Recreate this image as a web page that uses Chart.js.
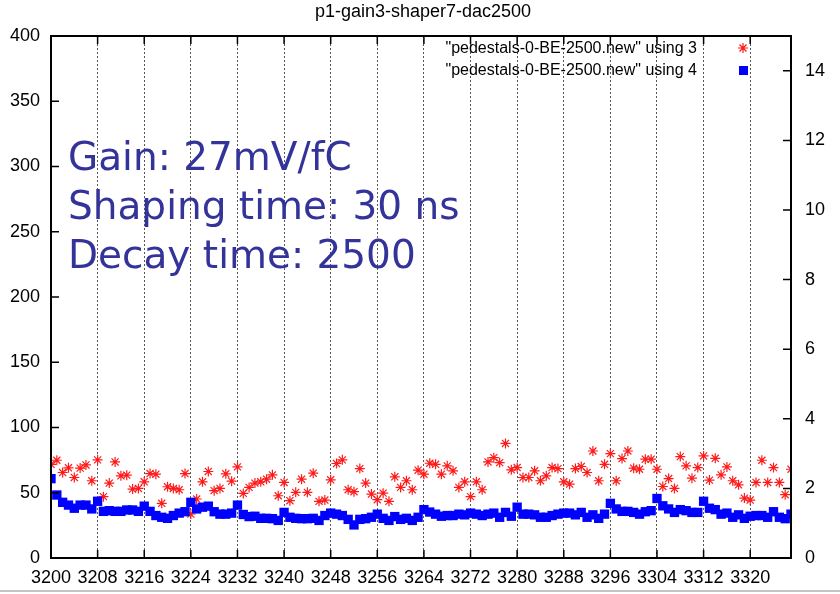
<!DOCTYPE html>
<html>
<head>
<meta charset="utf-8">
<title>p1-gain3-shaper7-dac2500</title>
<script src="https://cdn.jsdelivr.net/npm/chart.js@4.4.1/dist/chart.umd.min.js"></script>
<style>
    html, body { margin: 0; padding: 0; background: #fff; }
    #wrap { position: relative; width: 840px; height: 594px; }
</style>
</head>
<body>
<div id="wrap"><canvas id="pedChart" width="840" height="594"></canvas></div>
<script>
// channel numbers on the x axis
const channels = [
    3200, 3201, 3202, 3203, 3204, 3205, 3206, 3207, 3208, 3209, 3210, 3211, 3212, 3213, 3214, 3215,
    3216, 3217, 3218, 3219, 3220, 3221, 3222, 3223, 3224, 3225, 3226, 3227, 3228, 3229, 3230, 3231,
    3232, 3233, 3234, 3235, 3236, 3237, 3238, 3239, 3240, 3241, 3242, 3243, 3244, 3245, 3246, 3247,
    3248, 3249, 3250, 3251, 3252, 3253, 3254, 3255, 3256, 3257, 3258, 3259, 3260, 3261, 3262, 3263,
    3264, 3265, 3266, 3267, 3268, 3269, 3270, 3271, 3272, 3273, 3274, 3275, 3276, 3277, 3278, 3279,
    3280, 3281, 3282, 3283, 3284, 3285, 3286, 3287, 3288, 3289, 3290, 3291, 3292, 3293, 3294, 3295,
    3296, 3297, 3298, 3299, 3300, 3301, 3302, 3303, 3304, 3305, 3306, 3307, 3308, 3309, 3310, 3311,
    3312, 3313, 3314, 3315, 3316, 3317, 3318, 3319, 3320, 3321, 3322, 3323, 3324, 3325, 3326, 3327
];

// "using 3" column (left axis)
const using3 = [
    71.8, 74.9, 65.5, 69.1, 61.7, 68.9, 71.3, 59.2, 75.2, 47.0, 57.4, 73.6, 63.0, 63.5, 52.8, 53.3,
    58.4, 64.7, 64.2, 41.9, 54.6, 53.3, 52.3, 64.7, 33.7, 45.2, 58.4, 66.3, 51.6, 53.3, 64.5, 58.9,
    69.8, 49.5, 54.1, 57.4, 58.4, 60.4, 63.7, 47.7, 57.9, 43.9, 50.3, 60.4, 50.3, 65.0, 43.4, 44.4,
    59.9, 72.4, 75.2, 52.3, 50.8, 68.5, 57.4, 49.0, 44.7, 49.7, 43.4, 62.2, 54.1, 59.2, 52.3, 67.3,
    64.2, 72.6, 71.8, 64.2, 70.6, 66.8, 54.1, 58.4, 47.0, 58.4, 52.3, 73.6, 76.9, 73.1, 87.8, 67.6,
    69.3, 61.7, 61.7, 66.8, 59.2, 63.0, 69.3, 68.5, 58.4, 56.6, 68.5, 70.1, 65.5, 82.0, 59.2, 71.8,
    80.0, 59.2, 76.2, 82.0, 68.8, 68.0, 75.7, 75.7, 68.0, 54.8, 60.9, 53.3, 77.7, 70.6, 61.2, 69.3,
    78.2, 59.7, 76.4, 63.7, 69.8, 59.2, 56.1, 45.9, 44.4, 57.9, 74.9, 57.9, 69.3, 57.9, 48.5, 68.0
];

// "using 4" column (right axis)
const using4 = [
    2.28, 1.81, 1.60, 1.52, 1.43, 1.52, 1.52, 1.41, 1.63, 1.34, 1.36, 1.34, 1.34, 1.38, 1.38, 1.34,
    1.49, 1.34, 1.22, 1.17, 1.14, 1.22, 1.29, 1.33, 1.60, 1.41, 1.46, 1.49, 1.33, 1.26, 1.26, 1.29,
    1.52, 1.25, 1.19, 1.20, 1.14, 1.14, 1.13, 1.08, 1.31, 1.17, 1.14, 1.13, 1.13, 1.14, 1.08, 1.22,
    1.29, 1.26, 1.22, 1.11, 0.95, 1.11, 1.13, 1.17, 1.26, 1.14, 1.08, 1.19, 1.11, 1.14, 1.08, 1.17,
    1.39, 1.32, 1.26, 1.20, 1.22, 1.22, 1.26, 1.24, 1.29, 1.26, 1.22, 1.26, 1.29, 1.17, 1.31, 1.20,
    1.46, 1.26, 1.26, 1.24, 1.17, 1.17, 1.22, 1.26, 1.29, 1.29, 1.24, 1.31, 1.17, 1.24, 1.14, 1.26,
    1.57, 1.41, 1.34, 1.34, 1.31, 1.26, 1.33, 1.36, 1.71, 1.50, 1.41, 1.31, 1.39, 1.36, 1.31, 1.31,
    1.63, 1.43, 1.39, 1.26, 1.29, 1.17, 1.24, 1.14, 1.20, 1.22, 1.22, 1.17, 1.33, 1.17, 1.13, 1.26
];

const xTicks = [3200, 3208, 3216, 3224, 3232, 3240, 3248, 3256, 3264, 3272, 3280, 3288, 3296, 3304, 3312, 3320];
const yTicks = [0, 50, 100, 150, 200, 250, 300, 350, 400];
const y2Ticks = [0, 2, 4, 6, 8, 10, 12, 14];

const chartTitle = 'p1-gain3-shaper7-dac2500';
const legendLabels = ['"pedestals-0-BE-2500.new" using 3', '"pedestals-0-BE-2500.new" using 4'];
const noteLines = ['Gain: 27mV/fC', 'Shaping time: 30 ns', 'Decay time: 2500'];

const RED = '#ff1a1a';
const BLUE = '#0000ff';
const FAMILY = '"Liberation Sans", Arial, sans-serif';

// gnuplot-like frame, inward ticks, title, key and the text box
const gnuplotDecor = {
    id: 'gnuplotDecor',
    afterDraw(chart) {
        const ctx = chart.ctx;
        const area = chart.chartArea;
        const x = chart.scales.x, y = chart.scales.y, y2 = chart.scales.y2;
        ctx.save();

        // tick marks pointing inside
        ctx.strokeStyle = '#000';
        ctx.lineWidth = 1.5;
        ctx.beginPath();
        xTicks.forEach(v => {
            const px = x.getPixelForValue(v);
            ctx.moveTo(px, area.bottom); ctx.lineTo(px, area.bottom - 8);
            ctx.moveTo(px, area.top); ctx.lineTo(px, area.top + 8);
        });
        yTicks.forEach(v => {
            const py = y.getPixelForValue(v);
            ctx.moveTo(area.left, py); ctx.lineTo(area.left + 8, py);
        });
        y2Ticks.forEach(v => {
            const py = y2.getPixelForValue(v);
            ctx.moveTo(area.right, py); ctx.lineTo(area.right - 8, py);
        });
        ctx.stroke();

        // border
        ctx.lineWidth = 2;
        ctx.strokeRect(area.left, area.top, area.right - area.left, area.bottom - area.top);

        // title
        ctx.fillStyle = '#000';
        ctx.font = '18px ' + FAMILY;
        ctx.textAlign = 'center';
        ctx.textBaseline = 'middle';
        ctx.fillText(chartTitle, (area.left + area.right) / 2 + 2, 12);

        // key
        ctx.font = '16px ' + FAMILY;
        ctx.textAlign = 'right';
        ctx.fillText(legendLabels[0], 697, 49);
        ctx.fillText(legendLabels[1], 697, 71);
        ctx.strokeStyle = RED;
        ctx.lineWidth = 1.2;
        ctx.beginPath();
        const sx = 743, sy = 48, r = 5;
        ctx.moveTo(sx - r, sy); ctx.lineTo(sx + r, sy);
        ctx.moveTo(sx, sy - r); ctx.lineTo(sx, sy + r);
        ctx.moveTo(sx - r * 0.7, sy - r * 0.7); ctx.lineTo(sx + r * 0.7, sy + r * 0.7);
        ctx.moveTo(sx - r * 0.7, sy + r * 0.7); ctx.lineTo(sx + r * 0.7, sy - r * 0.7);
        ctx.stroke();
        ctx.fillStyle = BLUE;
        ctx.fillRect(739, 66, 9, 9);

        // annotation
        ctx.fillStyle = '#333399';
        ctx.font = '39px "DejaVu Sans", sans-serif';
        ctx.textAlign = 'left';
        ctx.textBaseline = 'alphabetic';
        ctx.fillText(noteLines[0], 68, 170);
        ctx.fillText(noteLines[1], 68, 219);
        ctx.fillText(noteLines[2], 68, 268);

        // bottom rule of the picture
        ctx.fillStyle = '#c4c4c4';
        ctx.fillRect(0, 590, 840, 2);
        ctx.restore();
    }
};

const ctx = document.getElementById('pedChart').getContext('2d');
new Chart(ctx, {
    type: 'scatter',
    data: {
        datasets: [{
            label: legendLabels[0],
            data: channels.map((c, i) => ({ x: c, y: using3[i] })),
            yAxisID: 'y',
            pointStyle: 'star',
            pointRadius: 5,
            borderColor: RED,
            backgroundColor: RED,
            pointBorderWidth: 1.2,
            order: 1
        }, {
            label: legendLabels[1],
            data: channels.map((c, i) => ({ x: c, y: using4[i] })),
            yAxisID: 'y2',
            pointStyle: 'rect',
            pointRadius: 6.6,
            backgroundColor: BLUE,
            borderColor: BLUE,
            pointBorderWidth: 0,
            order: 0
        }]
    },
    options: {
        responsive: false,
        animation: false,
        events: [],
        layout: { padding: { top: 36, left: 0, right: 0, bottom: 0 } },
        plugins: {
            legend: { display: false },
            title: { display: false },
            tooltip: { enabled: false }
        },
        scales: {
            x: {
                type: 'linear',
                position: 'bottom',
                min: 3200,
                max: 3327,
                afterBuildTicks: scale => { scale.ticks = xTicks.map(v => ({ value: v })); },
                afterFit: scale => { scale.height = 36; },
                ticks: {
                    font: { family: FAMILY, size: 18 },
                    color: '#000',
                    padding: 9,
                    maxRotation: 0,
                    autoSkip: false,
                    callback: v => String(v)
                },
                grid: { color: '#555', lineWidth: 1, drawTicks: false },
                border: { display: false, dash: [2, 2] }
            },
            y: {
                position: 'left',
                min: 0,
                max: 400,
                afterBuildTicks: scale => { scale.ticks = yTicks.map(v => ({ value: v })); },
                afterFit: scale => { scale.width = 51; },
                ticks: {
                    font: { family: FAMILY, size: 18 },
                    color: '#000',
                    padding: 3
                },
                grid: { display: false },
                border: { display: false }
            },
            y2: {
                position: 'right',
                min: 0,
                max: 15,
                afterBuildTicks: scale => { scale.ticks = y2Ticks.map(v => ({ value: v })); },
                afterFit: scale => { scale.width = 49; },
                ticks: {
                    font: { family: FAMILY, size: 18 },
                    color: '#000',
                    padding: 6
                },
                grid: { display: false },
                border: { display: false }
            }
        }
    },
    plugins: [gnuplotDecor]
});
</script>
</body>
</html>
